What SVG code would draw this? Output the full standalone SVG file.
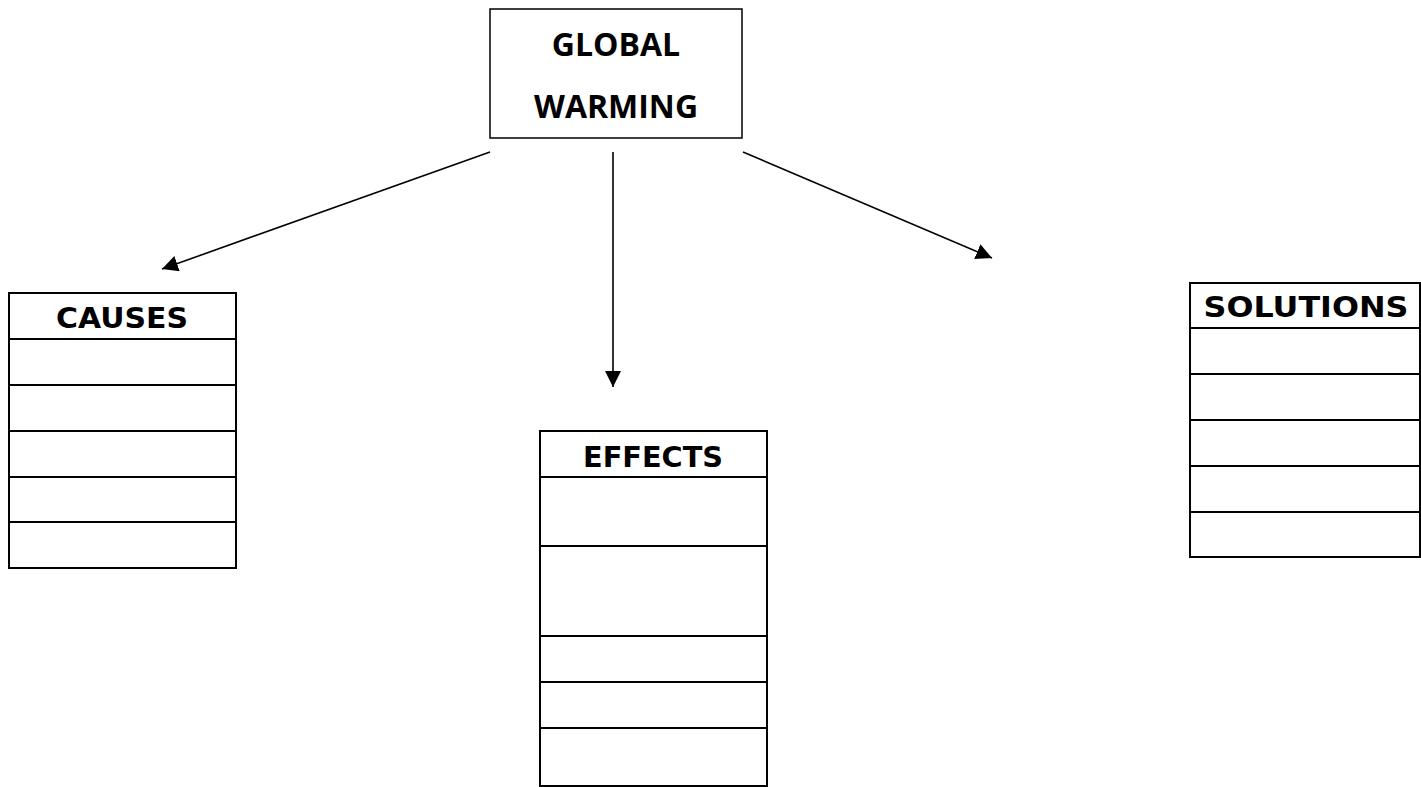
<svg xmlns="http://www.w3.org/2000/svg" width="1421" height="787" viewBox="0 0 1421 787">
<style>
.box{fill:#fff;stroke:#000;stroke-width:1.5}
.tbl{fill:#fff;stroke:#000;stroke-width:2}
.row{stroke:#000;stroke-width:2}
.title{font-family:"Open Sans","Liberation Sans",sans-serif;font-weight:bold;font-size:32px;text-anchor:middle;fill:#000}
.head{font-family:"DejaVu Sans","Liberation Sans",sans-serif;font-weight:bold;font-size:28px;text-anchor:middle;fill:#000}
.conn{stroke:#000;stroke-width:1.6;fill:none;marker-end:url(#arrow)}
</style>
<defs>
<marker id="arrow" markerUnits="userSpaceOnUse" markerWidth="18" markerHeight="16" refX="16" refY="8" orient="auto">
<path d="M0,0 L16,8 L0,16 Z" fill="#000"/>
</marker>
</defs>
<rect width="1421" height="787" fill="#fff"/>
<g id="global-warming">
<rect class="box" x="490" y="9" width="252" height="129"/>
<text class="title" x="616" y="56">GLOBAL</text>
<text class="title" x="616" y="118">WARMING</text>
</g>
<g id="connectors">
<line class="conn" x1="490" y1="152" x2="162" y2="269"/>
<line class="conn" x1="613" y1="152" x2="613" y2="387"/>
<line class="conn" x1="743" y1="152" x2="992" y2="258"/>
</g>
<g id="causes">
<rect class="tbl" x="9" y="293" width="227" height="275"/>
<line class="row" x1="9" y1="339" x2="236" y2="339"/>
<line class="row" x1="9" y1="385" x2="236" y2="385"/>
<line class="row" x1="9" y1="431" x2="236" y2="431"/>
<line class="row" x1="9" y1="477" x2="236" y2="477"/>
<line class="row" x1="9" y1="522" x2="236" y2="522"/>
<text class="head" x="122" y="328" textLength="132" lengthAdjust="spacingAndGlyphs">CAUSES</text>
</g>
<g id="effects">
<rect class="tbl" x="540" y="431" width="227" height="355"/>
<line class="row" x1="540" y1="477" x2="767" y2="477"/>
<line class="row" x1="540" y1="546" x2="767" y2="546"/>
<line class="row" x1="540" y1="636" x2="767" y2="636"/>
<line class="row" x1="540" y1="682" x2="767" y2="682"/>
<line class="row" x1="540" y1="728" x2="767" y2="728"/>
<text class="head" x="653" y="467" textLength="140" lengthAdjust="spacingAndGlyphs">EFFECTS</text>
</g>
<g id="solutions">
<rect class="tbl" x="1190" y="283" width="230" height="274"/>
<line class="row" x1="1190" y1="328" x2="1420" y2="328"/>
<line class="row" x1="1190" y1="374" x2="1420" y2="374"/>
<line class="row" x1="1190" y1="420" x2="1420" y2="420"/>
<line class="row" x1="1190" y1="466" x2="1420" y2="466"/>
<line class="row" x1="1190" y1="512" x2="1420" y2="512"/>
<text class="head" x="1306" y="317" textLength="205" lengthAdjust="spacingAndGlyphs">SOLUTIONS</text>
</g>
</svg>
